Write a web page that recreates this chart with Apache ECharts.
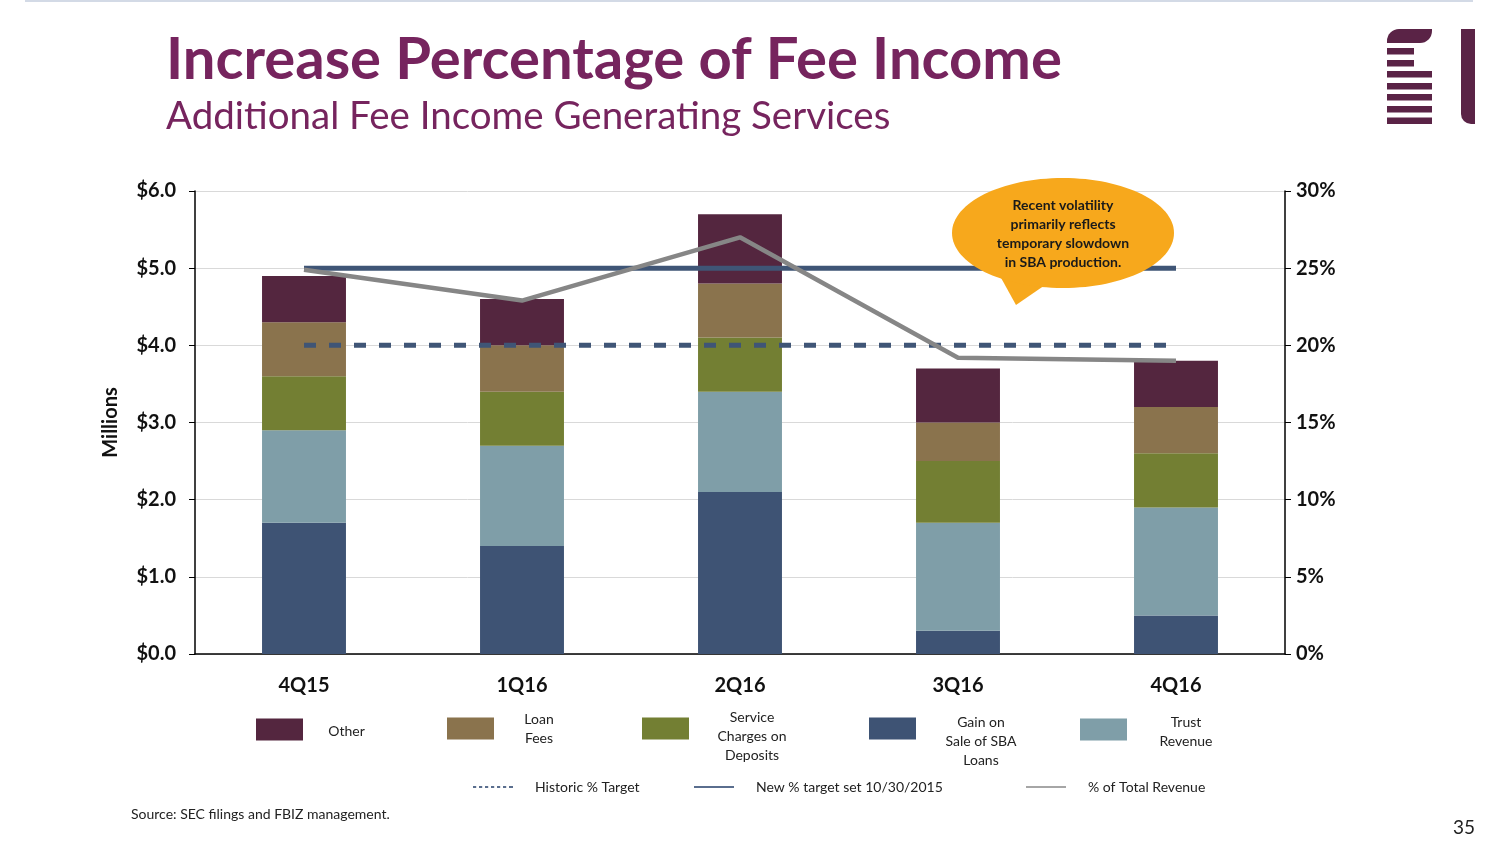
<!DOCTYPE html>
<html>
<head>
<meta charset="utf-8">
<script src="https://cdn.jsdelivr.net/npm/echarts@6/dist/echarts.min.js"></script>
<style>
html,body{margin:0;padding:0;background:#fff;}
#chart{width:1504px;height:846px;}
</style>
</head>
<body>
<div id="chart"></div>
<script>
const categories = ['4Q15', '1Q16', '2Q16', '3Q16', '4Q16'];
const gainSBA = [1.7, 1.4, 2.1, 0.3, 0.5];
const trustRevenue = [1.2, 1.3, 1.3, 1.4, 1.4];
const serviceCharges = [0.7, 0.7, 0.7, 0.8, 0.7];
const loanFees = [0.7, 0.6, 0.7, 0.5, 0.6];
const other = [0.6, 0.6, 0.9, 0.7, 0.6];
const historicTarget = [20, 20, 20, 20, 20];
const newTarget = [25, 25, 25, 25, 25];
const pctTotalRevenue = [24.9, 22.9, 27.0, 19.2, 19.0];
const leftTicks = [0, 1, 2, 3, 4, 5, 6];
const rightTicks = [0, 5, 10, 15, 20, 25, 30];

const FONT = 'Lato';
const C = {
  other: '#54263F', loan: '#8A734D', service: '#737F33', sba: '#3E5374', trust: '#7F9EA8',
  navy: '#3F5576', gray: '#868686', title: '#76245E', logo: '#5A2346', bubble: '#F7A81C'
};

function rich(lines) {
  return lines.map(l => '{t|' + l + '}').join('\n');
}
function barLegend(name, lines, left, top, w, padTop) {
  return {
    data: [name], left: left, top: top, padding: 0, orient: 'horizontal',
    icon: 'rect', itemWidth: 47, itemHeight: 22, selectedMode: false,
    formatter: () => rich(lines),
    textStyle: {
      fontFamily: FONT, fontSize: 14, color: '#222', padding: [padTop, 0, 0, 0],
      rich: { t: { width: w, align: 'center', fontFamily: FONT, fontSize: 14, lineHeight: 19, color: '#222' } }
    }
  };
}
const DASH_ICON = 'path://M0,0h1.6v1h-1.6zM3,0h1.6v1h-1.6zM6,0h1.6v1h-1.6zM9,0h1.6v1h-1.6zM12,0h1.6v1h-1.6zM15,0h1.6v1h-1.6zM18,0h2v1h-2z';
function lineLegend(name, left, icon, color) {
  return {
    data: [{ name: name, icon: icon, itemStyle: { color: color } }], left: left, top: 780, padding: 0,
    itemWidth: 40, itemHeight: 2, selectedMode: false,
    textStyle: { fontFamily: FONT, fontSize: 14, color: '#222', padding: [0, 0, 0, 17] }
  };
}

const chart = echarts.init(document.getElementById('chart'));
const barSeries = [
  ['Gain on Sale of SBA Loans', gainSBA, C.sba],
  ['Trust Revenue', trustRevenue, C.trust],
  ['Service Charges on Deposits', serviceCharges, C.service],
  ['Loan Fees', loanFees, C.loan],
  ['Other', other, C.other]
].map(([name, data, color]) => ({
  name, type: 'bar', stack: 'fees', data, barWidth: '38.5%', yAxisIndex: 0,
  itemStyle: { color }, emphasis: { disabled: true }, z: 2
}));

chart.setOption({
  animation: false,
  textStyle: { fontFamily: FONT },
  grid: { left: 195, right: 219, top: 191, bottom: 192, containLabel: false },
  xAxis: {
    type: 'category', data: categories, boundaryGap: true,
    axisLine: { lineStyle: { color: '#000', width: 1.5 } },
    axisTick: { alignWithLabel: true, length: 6, lineStyle: { color: '#888' } },
    axisLabel: { fontFamily: FONT, fontWeight: 'bold', fontSize: 20, color: '#111', margin: 22 }
  },
  yAxis: [{
    type: 'value', min: 0, max: 6, interval: 1, position: 'left',
    name: 'Millions', nameLocation: 'middle', nameGap: 74, nameRotate: 90,
    nameTextStyle: { fontFamily: FONT, fontWeight: 'bold', fontSize: 20, color: '#111' },
    axisLine: { show: true, lineStyle: { color: '#000', width: 1.5 } },
    axisTick: { show: true, length: 6, lineStyle: { color: '#000' } },
    axisLabel: { fontFamily: FONT, fontWeight: 'bold', fontSize: 20, color: '#111', margin: 19,
      formatter: v => '$' + v.toFixed(1) },
    splitLine: { show: true, lineStyle: { color: '#D9D9D9', width: 1 } }
  }, {
    type: 'value', min: 0, max: 30, interval: 5, position: 'right',
    axisLine: { show: true, lineStyle: { color: '#000', width: 1.5 } },
    axisTick: { show: true, length: 6, lineStyle: { color: '#000' } },
    axisLabel: { fontFamily: FONT, fontWeight: 'bold', fontSize: 20, color: '#111', margin: 11,
      formatter: v => v + '%' },
    splitLine: { show: false }
  }],
  legend: [
    barLegend('Other', ['Other'], 256, 718.5, 77, 4),
    barLegend('Loan Fees', ['Loan', 'Fees'], 447, 712, 80, 0),
    barLegend('Service Charges on Deposits', ['Service', 'Charges on', 'Deposits'], 642, 710.5, 116, 16),
    barLegend('Gain on Sale of SBA Loans', ['Gain on', 'Sale of SBA', 'Loans'], 869, 715.5, 120, 26),
    barLegend('Trust Revenue', ['Trust', 'Revenue'], 1080, 715.5, 108, 5),
    lineLegend('Historic % Target', 473, DASH_ICON, '#5A6E8E'),
    lineLegend('New % target set 10/30/2015', 694, 'rect', '#5A6E8E'),
    lineLegend('% of Total Revenue', 1026, 'rect', '#A6A6A6')
  ],
  series: barSeries.concat([
    { name: 'Historic % Target', type: 'line', yAxisIndex: 1, data: historicTarget, symbol: 'none',
      lineStyle: { color: C.navy, width: 5, type: [12, 13] }, itemStyle: { color: C.navy }, z: 3 },
    { name: 'New % target set 10/30/2015', type: 'line', yAxisIndex: 1, data: newTarget, symbol: 'none',
      lineStyle: { color: C.navy, width: 5 }, itemStyle: { color: C.navy }, z: 3 },
    { name: '% of Total Revenue', type: 'line', yAxisIndex: 1, data: pctTotalRevenue, symbol: 'none',
      lineStyle: { color: C.gray, width: 4.5 }, itemStyle: { color: C.gray }, z: 4 }
  ]),
  graphic: [
    { type: 'line', shape: { x1: 25, y1: 1, x2: 1473, y2: 1 }, style: { stroke: '#D3DAE6', lineWidth: 2 }, silent: true },
    { type: 'text', left: 166, top: 31, style: { text: 'Increase Percentage of Fee Income', fontFamily: FONT, fontWeight: 'bold', fontSize: 58, fill: C.title } },
    { type: 'text', left: 166, top: 97, style: { text: 'Additional Fee Income Generating Services', fontFamily: FONT, fontSize: 38.5, fill: C.title } },
    // logo
    { type: 'rect', shape: { x: 1387, y: 29, width: 45, height: 14, r: [12, 0, 12, 0] }, style: { fill: C.logo } },
    { type: 'rect', shape: { x: 1387, y: 48, width: 27, height: 6.5 }, style: { fill: C.logo } },
    { type: 'rect', shape: { x: 1387, y: 60, width: 27, height: 6.5 }, style: { fill: C.logo } },
    { type: 'rect', shape: { x: 1387, y: 71, width: 45, height: 6.5 }, style: { fill: C.logo } },
    { type: 'rect', shape: { x: 1387, y: 83, width: 45, height: 6.5 }, style: { fill: C.logo } },
    { type: 'rect', shape: { x: 1387, y: 94, width: 45, height: 6.5 }, style: { fill: C.logo } },
    { type: 'rect', shape: { x: 1387, y: 106, width: 45, height: 6.5 }, style: { fill: C.logo } },
    { type: 'rect', shape: { x: 1387, y: 117.5, width: 45, height: 6.5 }, style: { fill: C.logo } },
    { type: 'rect', shape: { x: 1461, y: 29, width: 14, height: 95, r: [0, 0, 0, 10] }, style: { fill: C.logo } },
    // callout
    { type: 'polygon', z: 100, shape: { points: [[1000, 276], [1048, 283], [1016, 305]] }, style: { fill: C.bubble } },
    { type: 'ellipse', z: 100, shape: { cx: 1063, cy: 233, rx: 111, ry: 55 }, style: { fill: C.bubble } },
    { type: 'text', z: 101, x: 1063, y: 234, style: { text: 'Recent volatility\nprimarily reflects\ntemporary slowdown\nin SBA production.', fontFamily: FONT, fontWeight: 'bold', fontSize: 14, lineHeight: 19, fill: '#1A1A1A', align: 'center', verticalAlign: 'middle' } },
    { type: 'text', left: 131, top: 807, style: { text: 'Source: SEC filings and FBIZ management.', fontFamily: FONT, fontSize: 14, fill: '#222' } },
    { type: 'text', left: 1453, top: 818, style: { text: '35', fontFamily: FONT, fontSize: 19, fill: '#222' } }
  ]
});
</script>
</body>
</html>
